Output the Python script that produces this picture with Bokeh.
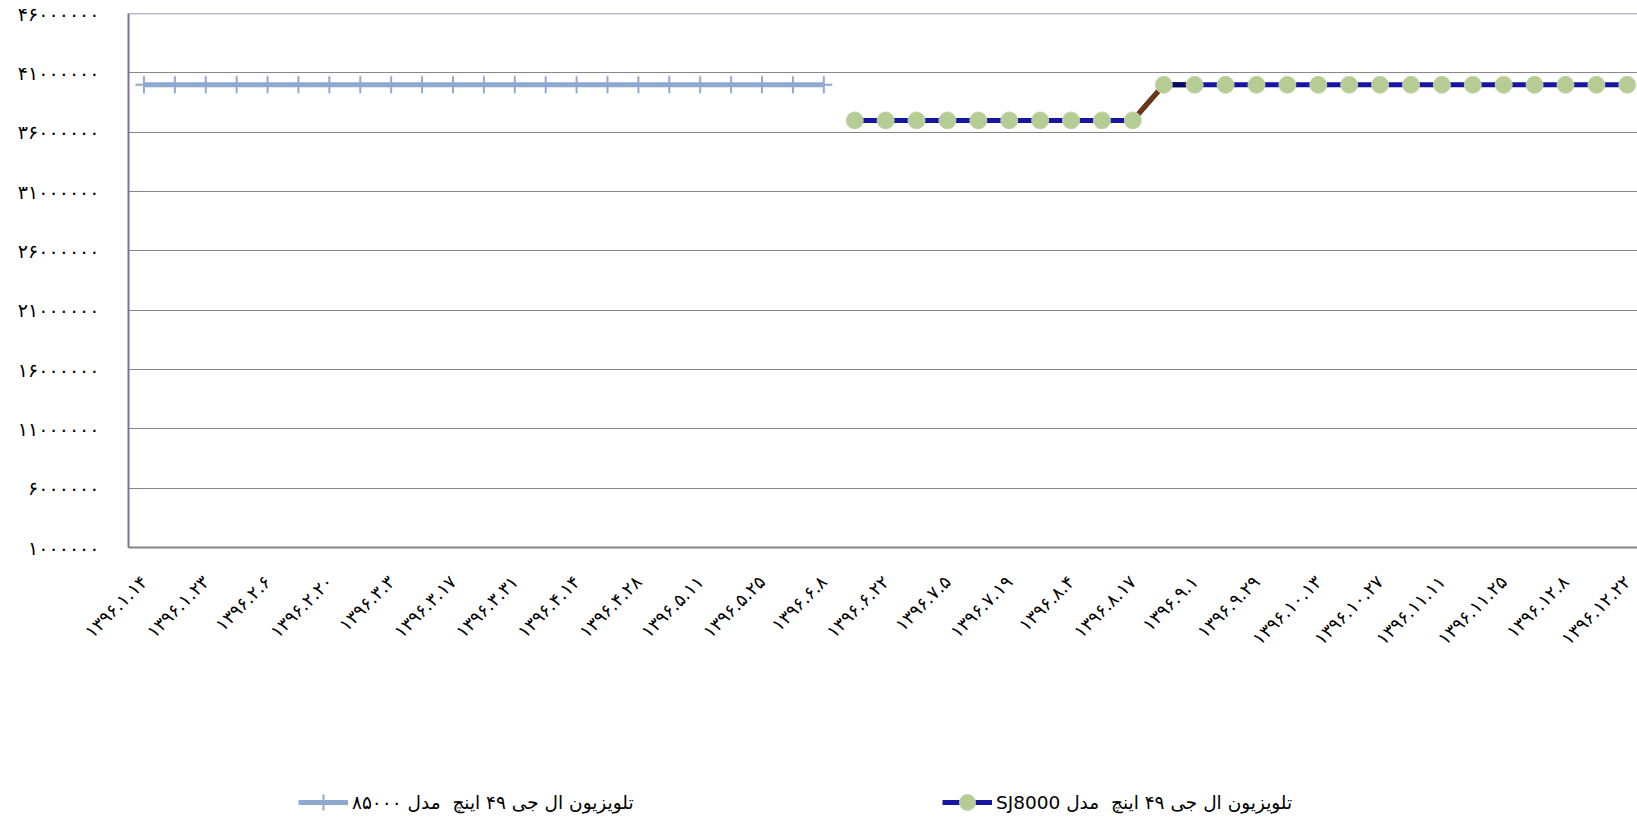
import math
from bokeh.plotting import figure
from bokeh.layouts import column
from bokeh.models import FixedTicker, Legend, LegendItem, ColumnDataSource, Range1d, Span
from bokeh.embed import file_html
from bokeh.resources import INLINE

# ---------------- data ----------------
x_tick_labels = [
    "۱۳۹۶.۱.۱۴", "۱۳۹۶.۱.۲۳", "۱۳۹۶.۲.۶", "۱۳۹۶.۲.۲۰", "۱۳۹۶.۳.۳",
    "۱۳۹۶.۳.۱۷", "۱۳۹۶.۳.۳۱", "۱۳۹۶.۴.۱۴", "۱۳۹۶.۴.۲۸", "۱۳۹۶.۵.۱۱",
    "۱۳۹۶.۵.۲۵", "۱۳۹۶.۶.۸", "۱۳۹۶.۶.۲۲", "۱۳۹۶.۷.۵", "۱۳۹۶.۷.۱۹",
    "۱۳۹۶.۸.۴", "۱۳۹۶.۸.۱۷", "۱۳۹۶.۹.۱", "۱۳۹۶.۹.۲۹", "۱۳۹۶.۱۰.۱۳",
    "۱۳۹۶.۱۰.۲۷", "۱۳۹۶.۱۱.۱۱", "۱۳۹۶.۱۱.۲۵", "۱۳۹۶.۱۲.۸", "۱۳۹۶.۱۲.۲۲",
]
x_tick_positions = [0, 2, 4, 6, 8, 10, 12, 14, 16, 18, 20, 22, 24,
                    26, 28, 30, 32, 34, 36, 38, 40, 42, 44, 46, 48]

y_tick_values = [1000000, 6000000, 11000000, 16000000, 21000000, 26000000,
                 31000000, 36000000, 41000000, 46000000]
y_tick_labels = ["۱۰۰۰۰۰۰", "۶۰۰۰۰۰۰", "۱۱۰۰۰۰۰۰", "۱۶۰۰۰۰۰۰", "۲۱۰۰۰۰۰۰",
                 "۲۶۰۰۰۰۰۰", "۳۱۰۰۰۰۰۰", "۳۶۰۰۰۰۰۰", "۴۱۰۰۰۰۰۰", "۴۶۰۰۰۰۰۰"]

series1_name = "تلویزیون ال جی ۴۹ اینچ  مدل ۸۵۰۰۰"
series1_x = [0, 1, 2, 3, 4, 5, 6, 7, 8, 9, 10, 11, 12, 13, 14, 15, 16,
             17, 18, 19, 20, 21, 22]
series1_y = [40000000, 40000000, 40000000, 40000000, 40000000, 40000000,
             40000000, 40000000, 40000000, 40000000, 40000000, 40000000,
             40000000, 40000000, 40000000, 40000000, 40000000, 40000000,
             40000000, 40000000, 40000000, 40000000, 40000000]

series2_name = "\u2067تلویزیون ال جی ۴۹ اینچ  مدل SJ8000\u2069"
series2_x = [23, 24, 25, 26, 27, 28, 29, 30, 31, 32, 33, 34, 35, 36, 37,
             38, 39, 40, 41, 42, 43, 44, 45, 46, 47, 48]
series2_y = [36990000, 36990000, 36990000, 36990000, 36990000, 36990000,
             36990000, 36990000, 36990000, 36990000, 39990000, 39990000,
             39990000, 39990000, 39990000, 39990000, 39990000, 39990000,
             39990000, 39990000, 39990000, 39990000, 39990000, 39990000,
             39990000, 39990000]

# ---------------- styles ----------------
S1_COLOR = "#8FA8D0"
S2_LINE = "#1616A2"
S2_FILL = "#B5CC95"
S2_EDGE = "#C3D6A8"
PURPLE = "#7F6F9F"

W = 1637
H_MAIN = 770
H_LEG = 49
FRAME_LEFT = 128

src1 = ColumnDataSource(dict(x=series1_x, y=series1_y))
src2 = ColumnDataSource(dict(x=series2_x, y=series2_y))

# ---------------- main figure ----------------
p = figure(width=W, height=H_MAIN, output_backend="svg", toolbar_location=None,
           x_range=Range1d(-0.5, 48.33), y_range=Range1d(1000000, 46000000),
           min_border_left=FRAME_LEFT, min_border_right=0, min_border_top=13,
           min_border_bottom=H_MAIN - 13 - 534)
p.background_fill_color = "white"
p.border_fill_color = "white"
p.outline_line_color = None

p.xaxis.ticker = FixedTicker(ticks=x_tick_positions)
p.xaxis.major_label_overrides = {pos: lab for pos, lab in zip(x_tick_positions, x_tick_labels)}
p.xaxis.major_label_orientation = math.pi / 4
p.xaxis.major_label_text_font = "DejaVu Sans"
p.xaxis.major_label_text_font_size = "18px"
p.xaxis.major_label_text_color = "black"
p.xaxis.major_label_standoff = 31
p.xaxis.major_tick_in = 0
p.xaxis.major_tick_out = 0
p.xaxis.minor_tick_in = 0
p.xaxis.minor_tick_out = 0
p.xaxis.axis_line_color = "#868686"
p.xaxis.axis_line_width = 2

p.yaxis.ticker = FixedTicker(ticks=y_tick_values)
p.yaxis.major_label_overrides = {v: lab for v, lab in zip(y_tick_values, y_tick_labels)}
p.yaxis.major_label_text_font = "DejaVu Sans"
p.yaxis.major_label_text_font_size = "19px"
p.yaxis.major_label_text_color = "black"
p.yaxis.major_label_standoff = 29
p.yaxis.major_tick_in = 0
p.yaxis.major_tick_out = 0
p.yaxis.minor_tick_in = 0
p.yaxis.minor_tick_out = 0
p.yaxis.axis_line_color = PURPLE
p.yaxis.axis_line_width = 2

p.xgrid.grid_line_color = None
p.ygrid.grid_line_color = "#878787"
p.ygrid.grid_line_width = 1

# purple top border of the plot area
p.add_layout(Span(location=y_tick_values[-1], dimension="width",
                  line_color=PURPLE, line_width=1.5))

p.line("x", "y", source=src1, line_color=S1_COLOR, line_width=5)
p.scatter("x", "y", source=src1, marker="cross", size=17,
          line_color=S1_COLOR, line_width=2)

p.line("x", "y", source=src2, line_color=S2_LINE, line_width=5)
p.line(series2_x[9:11], series2_y[9:11], line_color="#6B3A12", line_width=5)
p.line(series2_x[10:12], series2_y[10:12], line_color="#0A0A5E", line_width=5)
p.scatter("x", "y", source=src2, marker="circle", size=17,
          fill_color=S2_FILL, line_color=S2_EDGE, line_width=1)

# ---------------- legend strip ----------------
q = figure(width=W, height=H_LEG, output_backend="svg", toolbar_location=None,
           x_range=Range1d(-1000, -999), y_range=Range1d(-1000, -999),
           min_border=0)
q.axis.visible = False
q.grid.visible = False
q.outline_line_color = None
q.background_fill_color = "white"
q.border_fill_color = "white"

l1 = q.line("x", "y", source=src1, line_color=S1_COLOR, line_width=5)
m1 = q.scatter("x", "y", source=src1, marker="cross", size=17,
               line_color=S1_COLOR, line_width=2)
l2 = q.line("x", "y", source=src2, line_color=S2_LINE, line_width=5)
m2 = q.scatter("x", "y", source=src2, marker="circle", size=17,
               fill_color=S2_FILL, line_color=S2_EDGE, line_width=1)

leg_common = dict(border_line_color=None, background_fill_alpha=0,
                  padding=0, margin=0, glyph_width=50, glyph_height=40,
                  label_standoff=4, label_text_font="DejaVu Sans",
                  label_text_font_size="18.5px", label_text_color="black",
                  orientation="horizontal")
leg1 = Legend(items=[LegendItem(label=series1_name, renderers=[l1, m1])],
              location=(298 - FRAME_LEFT, -3), **leg_common)
leg2 = Legend(items=[LegendItem(label=series2_name, renderers=[l2, m2])],
              location=(942 - FRAME_LEFT, -3), **leg_common)
q.add_layout(leg1, "center")
q.add_layout(leg2, "center")

layout = column(p, q, spacing=0)
open("out.html", "w").write(file_html(layout, INLINE))
